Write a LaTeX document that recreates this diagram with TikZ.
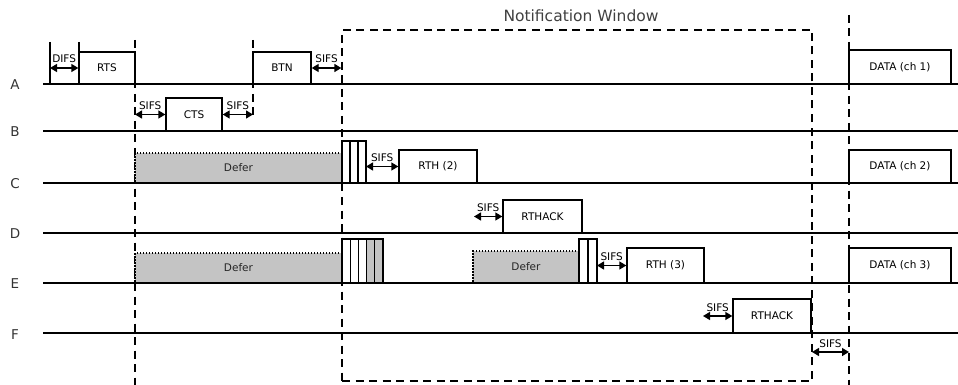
\documentclass[tikz,border=0pt]{standalone}
\usepackage{fontspec}
\setmainfont{DejaVu Sans}
\usetikzlibrary{arrows.meta,fit,calc}
\begin{document}
\begin{tikzpicture}[x=1pt,y=-1pt,
  tl/.style={line width=1.4pt},
  dsh/.style={line width=1.3pt, dash pattern=on 8pt off 5.5pt},
  pbox/.style={draw, line width=1.4pt, fill=white, inner sep=0pt},
  defer/.style={draw, line width=1.3pt, dash pattern=on 1.5pt off 1.5pt, fill=black!23, inner sep=0pt},
  txt/.style={font=\fontsize{10.5}{12}\selectfont, inner sep=0pt},
  dtxt/.style={txt, text=black!85},
  dbl/.style={line width=1.4pt, {Triangle[length=7pt,width=8pt]}-{Triangle[length=7pt,width=8pt]}},
  lbl/.style={font=\fontsize{10.5}{12}\selectfont, inner sep=0pt, anchor=base, yshift=5pt},
  row/.style={font=\fontsize{13.5}{15}\selectfont, text=black!80, inner sep=0pt},
  bar/.style={draw, line width=1.1pt},
]
\useasboundingbox (0,0) rectangle (958,385);

% dashed guide lines and notification window
\coordinate (g1) at (135,40);
\coordinate (g2) at (253,40);
\coordinate (g3) at (849,15);
\draw[dsh] (g1) -- (135,385);
\draw[dsh] (g2) -- (253,120);
\draw[dsh] (g3) -- (849,385);
\node[dsh, draw, fit={(342,30) (812,381)}, inner sep=0pt] (nw) {};
\node[font=\fontsize{15.5}{18}\selectfont, text=black!75] (nwt) at (581,16) {Notification Window};

% defer boxes
\node[defer, fit={(135,153) (342,183)}] (def1) {};
\node[dtxt] (def1t) at (def1.center) {Defer};
\node[defer, fit={(135,253) (342,283)}] (def2) {};
\node[dtxt] (def2t) at (def2.center) {Defer};
\node[defer, fit={(473,251) (579,283)}] (def3) {};
\node[dtxt] (def3t) at (def3.center) {Defer};

% timelines
\foreach \y in {84,131,183,233,283,333} \draw[tl] (43,\y) -- (958,\y);
\node[row] (la) at (15,85) {A};
\node[row] (lb) at (15,132) {B};
\node[row] (lc) at (15,184) {C};
\node[row] (ld) at (15,234) {D};
\node[row] (le) at (15,284) {E};
\node[row] (lf) at (15,335) {F};

% row A
\draw[tl] (50,42) -- (50,84);
\draw[tl] (79,42) -- (79,84);
\node[pbox, fit={(79,52) (135,84)}] (rts) {};
\node[txt] (rtst) at (rts.center) {RTS};
\draw[dbl] (rts.west -| 50,0) -- (rts.west) node[lbl, midway] (difs) {DIFS};
\node[pbox, fit={(253,52) (311,84)}] (btn) {};
\node[txt] (btnt) at (btn.center) {BTN};
\draw[dbl] (btn.east) -- (btn.east -| nw.west) node[lbl, midway] (s1) {SIFS};
\node[pbox, fit={(849,50) (951,84)}] (d1) {};
\node[txt] (d1t) at (d1.center) {DATA (ch 1)};

% row B
\node[pbox, fit={(166,98) (222,131)}] (cts) {};
\node[txt] (ctst) at (cts.center) {CTS};
\draw[dbl] (cts.west -| g1) -- (cts.west) node[lbl, midway] (s2) {SIFS};
\draw[dbl] (cts.east) -- (cts.east -| g2) node[lbl, midway] (s3) {SIFS};

% row C
\foreach \i in {0,1,2} \draw[bar, fill=white] ({342+8*\i},141) rectangle ++(8,42);
\coordinate (cb) at (366,183);
\node[pbox, fit={(399,150) (477,183)}] (rth2) {};
\node[txt] (rth2t) at (rth2.center) {RTH (2)};
\draw[dbl] (cb |- rth2.west) -- (rth2.west) node[lbl, midway] (s4) {SIFS};
\node[pbox, fit={(849,150) (951,183)}] (d2) {};
\node[txt] (d2t) at (d2.center) {DATA (ch 2)};

% row D
\node[pbox, fit={(503,200) (582,233)}] (ack1) {};
\node[txt] (ack1t) at (ack1.center) {RTHACK};
\coordinate (a1) at (474,233);
\draw[dbl] (a1 |- ack1.west) -- (ack1.west) node[lbl, midway] (s5) {SIFS};

% row E
\foreach \i/\c in {0/white,1/white,2/white,3/black!23,4/black!23}
  \draw[bar, fill=\c] ({342+8.2*\i},239) rectangle ++(8.2,44);
\foreach \i in {0,1} \draw[bar, fill=white] ({579+9*\i},239) rectangle ++(9,44);
\coordinate (eb) at (597,283);
\node[pbox, fit={(627,248) (704,283)}] (rth3) {};
\node[txt] (rth3t) at (rth3.center) {RTH (3)};
\draw[dbl] (eb |- rth3.west) -- (rth3.west) node[lbl, midway] (s6) {SIFS};
\node[pbox, fit={(849,248) (951,283)}] (d3) {};
\node[txt] (d3t) at (d3.center) {DATA (ch 3)};

% row F
\node[pbox, fit={(733,299) (811,333)}] (ack2) {};
\node[txt] (ack2t) at (ack2.center) {RTHACK};
\coordinate (a2) at (703,333);
\draw[dbl] (a2 |- ack2.west) -- (ack2.west) node[lbl, midway] (s7) {SIFS};
\coordinate (f1) at (812,352);
\draw[dbl] (f1) -- (f1 -| g3) node[lbl, midway] (s8) {SIFS};
\end{tikzpicture}
\end{document}
